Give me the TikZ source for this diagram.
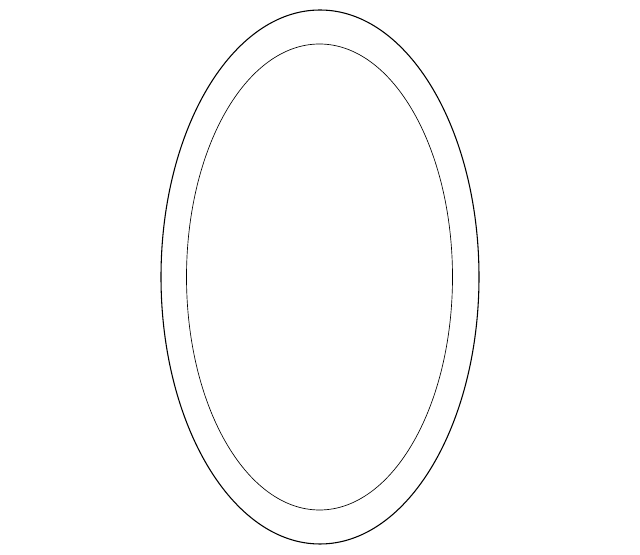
\documentclass[tikz,border=0pt]{standalone}
\usepackage{tikz}

\begin{document}
\begin{tikzpicture}[x=0.75pt,y=0.75pt,yscale=-1,xscale=1]
%set diagram left start at 0, and has height of 555
\useasboundingbox (0,0) rectangle (640,555);

%Shape: Ellipse [id:outerring] 
\draw  [line width=0.8]  (320,277) ellipse (159 and 267) ;
%Shape: Ellipse [id:innerring] 
\draw  [line width=0.5]  (319.5,277) ellipse (133 and 233) ;

\end{tikzpicture}
\end{document}
